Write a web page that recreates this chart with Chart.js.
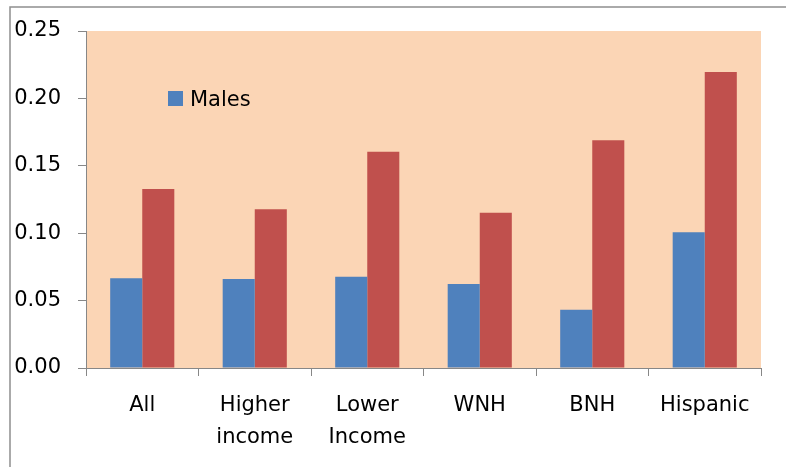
<!DOCTYPE html>
<html>
<head>
<meta charset="utf-8">
<script src="https://cdn.jsdelivr.net/npm/chart.js@4/dist/chart.umd.min.js"></script>
<style>
  html, body { margin: 0; padding: 0; background: #ffffff; }
  #wrap { width: 786px; height: 467px; position: relative; }
</style>
</head>
<body>
<div id="wrap"><canvas id="c" width="786" height="467"></canvas></div>
<script>
// Group labels (two-line labels given as arrays)
const categories = ['All', ['Higher', 'income'], ['Lower', 'Income'], 'WNH', 'BNH', 'Hispanic'];
// Series values
const males   = [0.0665, 0.0660, 0.0677, 0.0623, 0.0433, 0.1007];
const females = [0.1328, 0.1177, 0.1605, 0.1152, 0.1690, 0.2196];
// Value axis
const yMin = 0, yMax = 0.25, yStep = 0.05;

const FONT = 'DejaVu Sans';
const AXIS_GREY = '#878787';

// Peach plot background plus the outer frame of the chart
const frameAndBackground = {
  id: 'frameAndBackground',
  beforeDraw(chart) {
    const { ctx, chartArea: a } = chart;
    ctx.save();
    ctx.fillStyle = '#FBD5B5';
    ctx.fillRect(a.left, a.top, a.right - a.left, a.bottom - a.top);
    ctx.strokeStyle = '#8f8f8f';
    ctx.lineWidth = 1.5;
    ctx.strokeRect(10, 7, chart.width + 20, chart.height + 20);
    ctx.restore();
  }
};

// Legend drawn inside the plot, showing only the first series
const insideLegend = {
  id: 'insideLegend',
  afterDraw(chart) {
    const { ctx } = chart;
    const ds = chart.data.datasets[0];
    const x = 168, y = 91;
    ctx.save();
    ctx.fillStyle = ds.backgroundColor;
    ctx.fillRect(x, y, 15, 15);
    ctx.fillStyle = '#000000';
    ctx.font = '21px "' + FONT + '"';
    ctx.textBaseline = 'alphabetic';
    ctx.fillText(ds.label, x + 22, y + 15);
    ctx.restore();
  }
};

new Chart(document.getElementById('c'), {
  type: 'bar',
  data: {
    labels: categories,
    datasets: [
      { label: 'Males', data: males, backgroundColor: '#4F81BD',
        categoryPercentage: 0.57, barPercentage: 1.0 },
      { label: 'Females', data: females, backgroundColor: '#C0504D',
        categoryPercentage: 0.57, barPercentage: 1.0 }
    ]
  },
  options: {
    responsive: false,
    animation: false,
    layout: { padding: { left: 0, top: 31, right: 25, bottom: 0 } },
    plugins: {
      legend: { display: false },
      tooltip: { enabled: false }
    },
    scales: {
      x: {
        grid: { display: true, drawOnChartArea: false, drawTicks: true, tickLength: 8,
                color: AXIS_GREY, offset: true },
        border: { display: true, color: AXIS_GREY, width: 1 },
        ticks: { color: '#000000', font: { family: FONT, size: 21, lineHeight: 1.5 },
                 padding: 14, maxRotation: 0, autoSkip: false },
        afterFit(scale) { scale.height = 99; }
      },
      y: {
        min: yMin, max: yMax,
        grid: { display: true, drawOnChartArea: false, drawTicks: true, tickLength: 8,
                color: AXIS_GREY },
        border: { display: true, color: AXIS_GREY, width: 1 },
        ticks: { stepSize: yStep, color: '#000000', font: { family: FONT, size: 21 },
                 padding: 17, callback: v => Number(v).toFixed(2) },
        afterFit(scale) { scale.width = 86; }
      }
    }
  },
  plugins: [frameAndBackground, insideLegend]
});
</script>
</body>
</html>
